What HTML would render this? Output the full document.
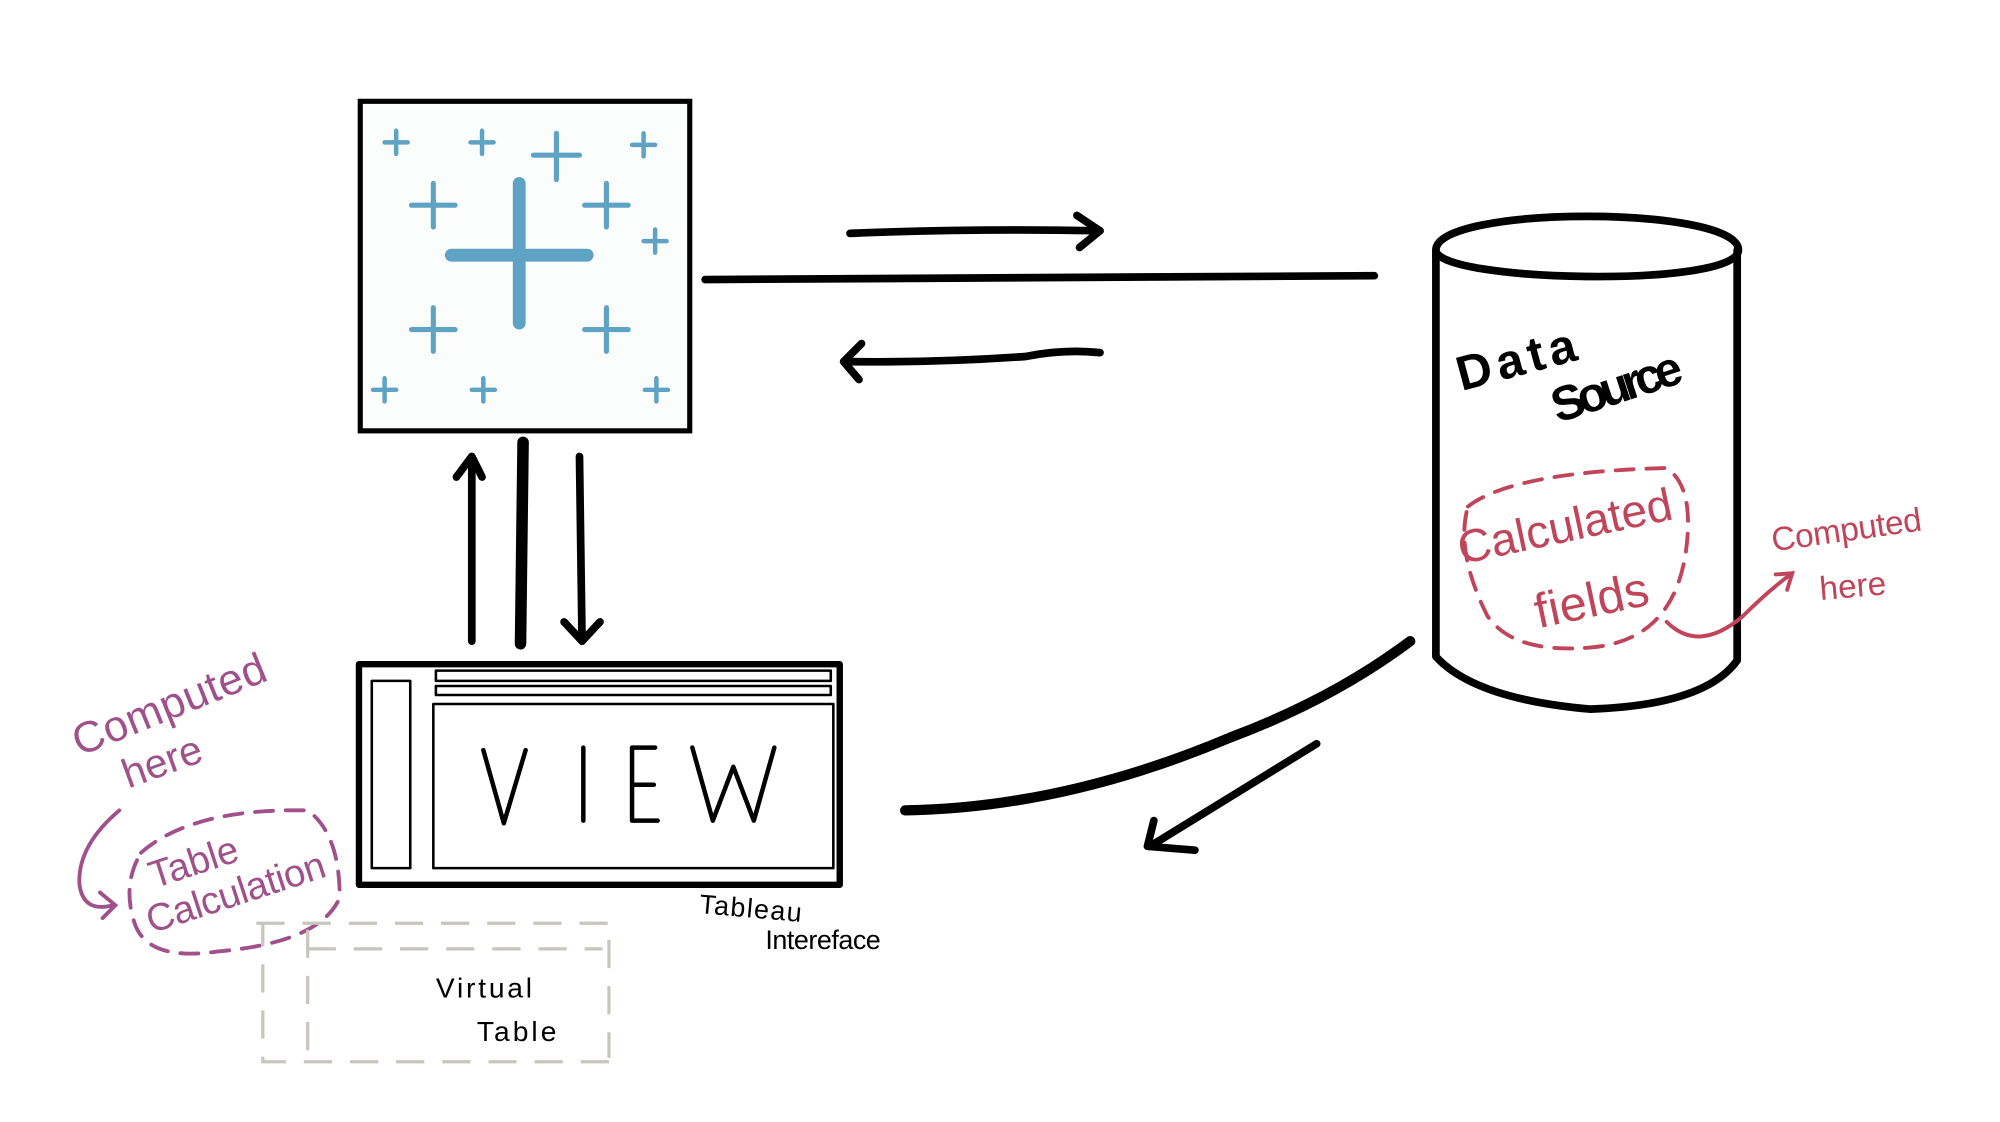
<!DOCTYPE html>
<html><head><meta charset="utf-8"><style>
html,body{margin:0;padding:0;background:#fff;}
svg{display:block;}
text{font-family:"Liberation Sans",sans-serif;}
</style></head><body>
<svg width="2000" height="1122" viewBox="0 0 1560 875" preserveAspectRatio="none" xmlns="http://www.w3.org/2000/svg">
<rect width="1560" height="875" fill="#fff"/>
<rect x="281" y="79" width="257" height="257" fill="#fbfdfd" stroke="#000" stroke-width="4"/>
<g stroke="#5fa3c4" stroke-linecap="round" fill="none">
<path d="M405 143V252M352 199H458" stroke-width="10"/>
<g stroke-width="4">
<path d="M338 143V177M321 160H355"/><path d="M473 143V177M456 160H490"/>
<path d="M338 240V274M321 257H355"/><path d="M473 240V274M456 257H490"/>
<path d="M434 104V140M416 121H452"/>
</g>
<g stroke-width="3.5">
<path d="M309 102V120M300 111H318"/><path d="M376 102V120M367 111H385"/>
<path d="M502 104V122M493 113H511"/><path d="M511 179V197M502 188H520"/>
<path d="M300 295V313M291 304H309"/><path d="M377 295V313M368 304H386"/>
<path d="M512 295V313M503 304H521"/>
</g></g>
<g stroke="#000" fill="none" stroke-linecap="round" stroke-linejoin="round">
<path d="M663 182Q760 178 858 180" stroke-width="6"/>
<path d="M840 168L858 180L842 193" stroke-width="6"/>
<path d="M550 218L1072 215" stroke-width="6"/>
<path d="M858 275Q830 272 800 278Q730 283 660 282" stroke-width="6"/>
<path d="M672 268L658 282L670 296" stroke-width="6"/>
<path d="M368 500V358" stroke-width="6"/>
<path d="M356 372L368 356L376 372" stroke-width="6"/>
<path d="M408 345L406 502" stroke-width="9"/>
<path d="M452 356L454 500" stroke-width="6"/>
<path d="M440 485L454 500L468 485" stroke-width="6"/>
<rect x="280" y="518" width="375" height="172" stroke-width="5"/>
<rect x="290" y="531" width="30" height="146" stroke-width="2"/>
<rect x="340" y="523" width="308" height="8" stroke-width="2"/>
<rect x="340" y="535" width="308" height="7" stroke-width="2"/>
<rect x="338" y="549" width="312" height="128" stroke-width="2"/>
<path d="M377 585L393 642L410 585M455 583V640M493 583V640H513M493 583H511M493 612H510M540 583L556 640L572 598L588 640L604 583" stroke-width="3.5"/>
<path d="M1120 195C1120 160 1356 160 1356 195C1356 225 1120 220 1120 195Z" stroke-width="6"/>
<path d="M1120 195V512Q1150 545 1240 553Q1330 550 1355 515V195" stroke-width="6"/>
<path d="M1100 500Q1040 545 960 575Q830 630 706 632" stroke-width="8"/>
<path d="M1027 580L897 660" stroke-width="6"/>
<path d="M900 640L895 660L932 663" stroke-width="6"/>
</g>
<text x="1140" y="305" font-size="38" transform="rotate(-15 1140 305)" font-weight="bold" textLength="95">Data</text>
<text x="1215" y="330" font-size="38" transform="rotate(-18 1215 330)" font-weight="bold" textLength="105">Source</text>
<g stroke="#c0455a" fill="none" stroke-width="3" stroke-linecap="round">
<path d="M1145 395Q1180 368 1300 365Q1322 380 1315 430Q1305 500 1240 505Q1180 510 1160 480Q1135 430 1145 395Z" stroke-dasharray="14 10"/>
<path d="M1300 485Q1325 510 1360 480Q1380 460 1398 447M1385 448L1398 447L1394 460"/>
</g>
<g fill="#c0455a">
<text x="1140" y="440" font-size="36" transform="rotate(-12 1140 440)" textLength="170">Calculated</text>
<text x="1200" y="490" font-size="38" transform="rotate(-12 1200 490)" textLength="90">fields</text>
<text x="1383" y="430" font-size="26" transform="rotate(-8 1383 430)" textLength="118">Computed</text>
<text x="1420" y="468" font-size="26" transform="rotate(-5 1420 468)">here</text>
</g>
<g stroke="#a0508a" fill="none" stroke-width="3" stroke-linecap="round">
<path d="M110 665Q150 630 240 632Q265 650 265 700Q250 735 170 742Q115 750 105 720Q95 690 110 665Z" stroke-dasharray="14 10"/>
<path d="M93 632Q60 660 62 690Q65 712 88 706M78 696L90 706L80 716"/>
</g>
<g fill="#a0508a">
<text x="62" y="590" font-size="34" transform="rotate(-22 62 590)" textLength="160">Computed</text>
<text x="100" y="615" font-size="32" transform="rotate(-20 100 615)">here</text>
<text x="120" y="693" font-size="30" transform="rotate(-18 120 693)">Table</text>
<text x="118" y="728" font-size="30" transform="rotate(-18 118 728)" textLength="145">Calculation</text>
</g>
<g stroke="#c8c5bc" fill="none" stroke-width="2.5" stroke-dasharray="22 14">
<path d="M200 720H475V825M475 828H205V720"/>
<path d="M240 740H470M240 725V825"/>
</g>
<text x="340" y="778" font-size="22" textLength="75">Virtual</text>
<text x="372" y="812" font-size="22" textLength="62">Table</text>
<text x="545" y="712" font-size="21" transform="rotate(5 545 712)" textLength="80">Tableau</text>
<text x="597" y="740" font-size="21" textLength="90">Intereface</text>
</svg>
</body></html>
